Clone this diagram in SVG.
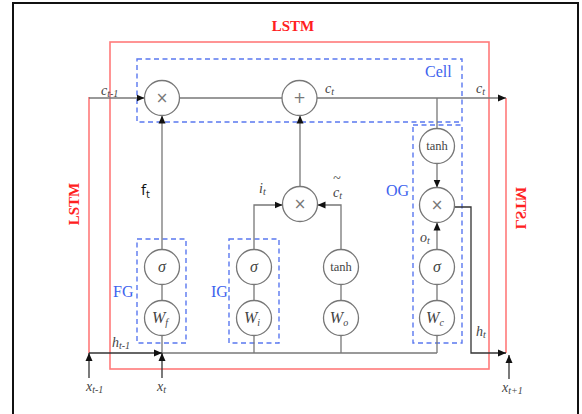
<svg xmlns="http://www.w3.org/2000/svg" width="582" height="414" viewBox="0 0 582 414">
<defs>
<marker id="arr" markerUnits="userSpaceOnUse" markerWidth="9" markerHeight="8" refX="8" refY="4" orient="auto">
<path d="M0,0.5 L8,4 L0,7.5 Z" fill="#111"/>
</marker>
<style>
.ln{fill:none;stroke:#777;stroke-width:1.3}
.lk{fill:none;stroke:#333;stroke-width:1.3}
.red{fill:none;stroke:#ff7a7a;stroke-width:1.6}
.blue{fill:none;stroke:#5a78f0;stroke-width:1.4;stroke-dasharray:5,3.5}
.nd{fill:#fff;stroke:#777;stroke-width:1.3}
.op{font-family:"DejaVu Sans",sans-serif;font-size:15px;fill:#777;text-anchor:middle}
.ci{font-family:"Liberation Serif",serif;font-style:italic;font-size:16px;fill:#444;text-anchor:middle}
.tn{font-family:"Liberation Serif",serif;font-size:12.5px;fill:#444;text-anchor:middle}
.lb{font-family:"Liberation Serif",serif;font-style:italic;font-size:14px;fill:#444}
.bl{font-family:"Liberation Serif",serif;font-size:16px;fill:#3d63ee}
.rt{font-family:"Liberation Serif",serif;font-weight:bold;font-size:15px;fill:#ff2020}
.sub{font-size:10px}
</style>
</defs>
<rect width="582" height="414" fill="#fff"/>
<path d="M13,414 V3 H578 V414" fill="none" stroke="#111" stroke-width="2"/>

<g id="lstm-frame">
<text class="rt" x="293" y="31" text-anchor="middle">LSTM</text>
<rect class="red" x="110" y="42" width="379" height="327"/>
<line class="red" x1="89" y1="97" x2="89" y2="353"/>
<line class="red" x1="506" y1="98" x2="506" y2="353"/>
<text class="rt" transform="translate(79,204) rotate(-90)" text-anchor="middle">LSTM</text>
<text class="rt" transform="translate(516,208) scale(-1,1) rotate(-90)" text-anchor="middle">LSTM</text>
</g>

<g id="cell">
<rect class="blue" x="137" y="59" width="325" height="63"/>
<text class="bl" x="425" y="77">Cell</text>
</g>
<g id="FG">
<rect class="blue" x="137" y="239" width="49" height="104"/>
<text class="bl" x="113" y="297">FG</text>
</g>
<g id="IG">
<rect class="blue" x="229" y="239" width="50" height="104"/>
<text class="bl" x="211" y="297">IG</text>
</g>
<g id="OG">
<rect class="blue" x="413" y="125" width="49" height="218"/>
<text class="bl" x="386" y="196">OG</text>
</g>

<g id="connectors">
<line class="ln" x1="89" y1="98" x2="144.5" y2="98" marker-end="url(#arr)"/>
<line class="ln" x1="179.5" y1="98" x2="282" y2="98"/>
<line class="ln" x1="317" y1="98" x2="506" y2="98" marker-end="url(#arr)"/>
<line class="ln" x1="437" y1="98" x2="437" y2="128.5"/>
<line class="ln" x1="437" y1="163.5" x2="437" y2="187.5" marker-end="url(#arr)"/>
<line class="ln" x1="437" y1="249.5" x2="437" y2="222.5" marker-end="url(#arr)"/>
<line class="ln" x1="437" y1="284.5" x2="437" y2="300.5"/>
<line class="ln" x1="437" y1="336" x2="437" y2="353"/>
<polyline class="lk" points="454.5,207 471,207 471,353 506,353" marker-end="url(#arr)"/>
<line class="ln" x1="162" y1="249.5" x2="162" y2="115.5" marker-end="url(#arr)"/>
<line class="ln" x1="162" y1="284.5" x2="162" y2="300.5"/>
<line class="ln" x1="162" y1="336" x2="162" y2="353"/>
<polyline class="ln" points="254,249.5 254,205 282.5,205" marker-end="url(#arr)"/>
<line class="ln" x1="254" y1="284.5" x2="254" y2="300.5"/>
<line class="ln" x1="254" y1="336" x2="254" y2="353"/>
<line class="ln" x1="300" y1="186.5" x2="300" y2="115.5" marker-end="url(#arr)"/>
<polyline class="ln" points="341,249.5 341,205 317.5,205" marker-end="url(#arr)"/>
<line class="ln" x1="341" y1="284.5" x2="341" y2="300.5"/>
<line class="ln" x1="341" y1="336" x2="341" y2="353"/>
<line class="ln" x1="162" y1="353" x2="437" y2="353"/>
<line class="lk" x1="89" y1="353" x2="162" y2="353" marker-end="url(#arr)"/>
<line class="lk" x1="89" y1="378" x2="89" y2="353" marker-end="url(#arr)"/>
<line class="lk" x1="162" y1="378" x2="162" y2="353" marker-end="url(#arr)"/>
<line class="lk" x1="509" y1="379" x2="509" y2="355" marker-end="url(#arr)"/>
</g>

<g id="mul-f"><circle class="nd" cx="162" cy="98" r="17.5"/><text class="op" x="162" y="103">×</text></g>
<g id="add"><circle class="nd" cx="299.5" cy="98" r="17.5"/><text class="op" x="299.5" y="103">+</text></g>
<g id="mul-i"><circle class="nd" cx="300" cy="204" r="17.5"/><text class="op" x="300" y="209">×</text></g>
<g id="tanh-c"><circle class="nd" cx="437" cy="146" r="17.5"/><text class="tn" x="437" y="150">tanh</text></g>
<g id="mul-o"><circle class="nd" cx="437" cy="205" r="17.5"/><text class="op" x="437" y="210">×</text></g>
<g id="sig-o"><circle class="nd" cx="437" cy="267" r="17.5"/><text class="ci" x="437" y="272">σ</text></g>
<g id="Wc"><circle class="nd" cx="437" cy="318" r="17.5"/><text class="ci" x="435" y="323">W<tspan class="sub" dy="3">c</tspan></text></g>
<g id="sig-f"><circle class="nd" cx="162" cy="267" r="17.5"/><text class="ci" x="162" y="272">σ</text></g>
<g id="Wf"><circle class="nd" cx="162" cy="318" r="17.5"/><text class="ci" x="160" y="323">W<tspan class="sub" dy="3">f</tspan></text></g>
<g id="sig-i"><circle class="nd" cx="254" cy="267" r="17.5"/><text class="ci" x="254" y="272">σ</text></g>
<g id="Wi"><circle class="nd" cx="254" cy="318" r="17.5"/><text class="ci" x="252" y="323">W<tspan class="sub" dy="3">i</tspan></text></g>
<g id="tanh-o"><circle class="nd" cx="341" cy="267" r="17.5"/><text class="tn" x="341" y="271">tanh</text></g>
<g id="Wo"><circle class="nd" cx="341" cy="318" r="17.5"/><text class="ci" x="339" y="323">W<tspan class="sub" dy="3">o</tspan></text></g>

<g id="labels">
<text class="lb" x="101" y="95">c<tspan class="sub" dy="2">t-1</tspan></text>
<text class="lb" x="325" y="93">c<tspan class="sub" dy="2">t</tspan></text>
<text class="lb" x="476" y="93">c<tspan class="sub" dy="2">t</tspan></text>
<text x="141" y="195" font-family="'Open Sans',sans-serif" font-size="15" fill="#111">f<tspan font-size="11" dy="3">t</tspan></text>
<text class="lb" x="259" y="193">i<tspan class="sub" dy="2">t</tspan></text>
<text class="lb" x="333" y="197">c<tspan class="sub" dy="2">t</tspan></text>
<text class="lb" x="333" y="183" font-style="normal" font-size="12">~</text>
<text class="lb" x="420" y="242">o<tspan class="sub" dy="2">t</tspan></text>
<text class="lb" x="112" y="347">h<tspan class="sub" dy="2">t-1</tspan></text>
<text class="lb" x="476" y="336">h<tspan class="sub" dy="2">t</tspan></text>
<text class="lb" x="86" y="391">x<tspan class="sub" dy="2">t-1</tspan></text>
<text class="lb" x="157" y="391">x<tspan class="sub" dy="2">t</tspan></text>
<text class="lb" x="502" y="392">x<tspan class="sub" dy="2">t+1</tspan></text>
</g>
</svg>
